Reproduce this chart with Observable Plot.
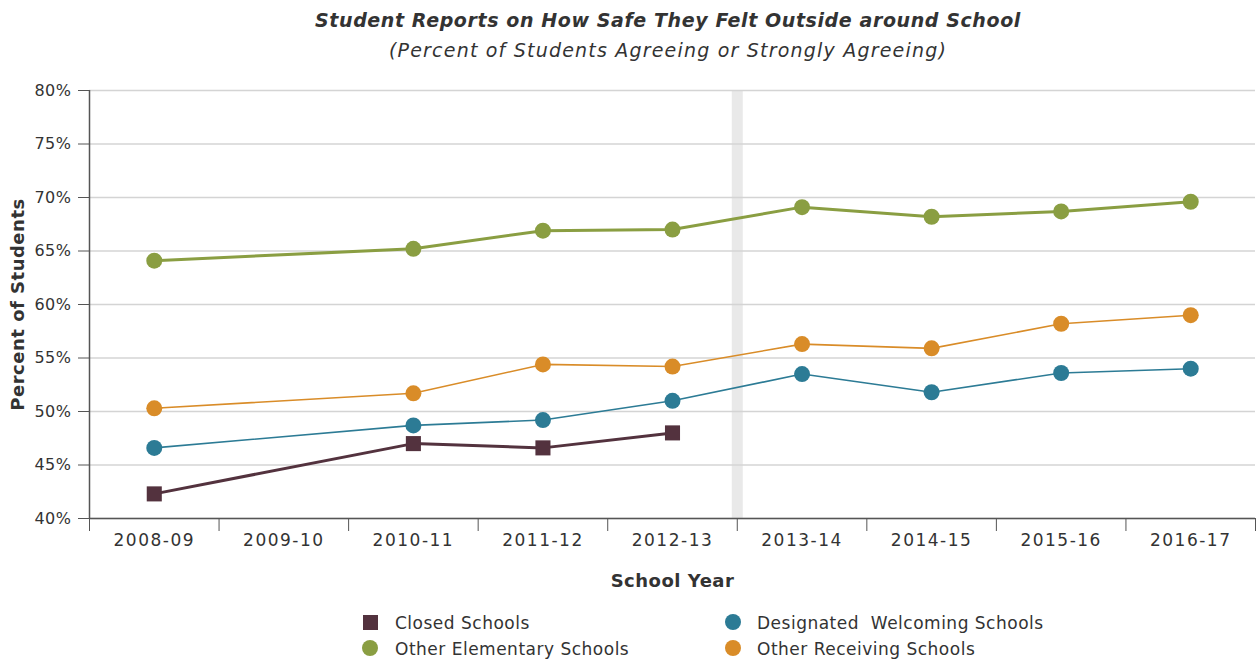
<!DOCTYPE html>
<html>
<head>
<meta charset="utf-8">
<script src="https://cdn.jsdelivr.net/npm/d3@7"></script>
<script src="https://cdn.jsdelivr.net/npm/@observablehq/plot@0.6"></script>
<style>
  body { margin: 0; background: #fff; font-family: "DejaVu Sans", sans-serif; color: #333; }
  #wrap { position: relative; width: 1260px; height: 660px; }
  #title { position: absolute; left: 0; top: 5px; width: 1336px; text-align: center; line-height: 30px; font-size: 19px; font-style: italic; color: #333; }
  #title .t { font-weight: 700; letter-spacing: 0.6px; }
  #title .s { letter-spacing: 1.2px; }
  #chart { position: absolute; left: 0; top: 70px; }
  #chart svg text { letter-spacing: 0.5px; }
  #chart svg g[aria-label="x-axis tick label"] text { letter-spacing: 1.5px; }
  .leg { position: absolute; font-size: 17px; color: #333; line-height: 20px; white-space: pre; letter-spacing: 0.5px; }
  .mk { position: absolute; }
</style>
</head>
<body>
<div id="wrap">
  <div id="title"><div class="t">Student Reports on How Safe They Felt Outside around School</div><div class="s">(Percent of Students Agreeing or Strongly Agreeing)</div></div>
  <div id="chart"></div>
  <div id="legend"></div>
</div>
<script>
const years = ["2008-09","2009-10","2010-11","2011-12","2012-13","2013-14","2014-15","2015-16","2016-17"];
const seriesNames = ["Closed Schools","Designated  Welcoming Schools","Other Elementary Schools","Other Receiving Schools"];
const closed     = [42.3, null, 47.0, 46.6, 48.0, null, null, null, null];
const welcoming  = [46.6, null, 48.7, 49.2, 51.0, 53.5, 51.8, 53.6, 54.0];
const elementary = [64.1, null, 65.2, 66.9, 67.0, 69.1, 68.2, 68.7, 69.6];
const receiving  = [50.3, null, 51.7, 54.4, 54.2, 56.3, 55.9, 58.2, 59.0];
const yTicks = [40, 45, 50, 55, 60, 65, 70, 75, 80];
const breakAfter = "2012-13";

const colors = {
  "Closed Schools": "#53323e",
  "Designated  Welcoming Schools": "#2c7b95",
  "Other Elementary Schools": "#8a9e42",
  "Other Receiving Schools": "#d98c28"
};
const widths = {
  "Closed Schools": 3,
  "Designated  Welcoming Schools": 1.6,
  "Other Elementary Schools": 3,
  "Other Receiving Schools": 1.6
};
const valuesBySeries = [closed, welcoming, elementary, receiving];

const rows = [];
seriesNames.forEach((s, k) => {
  valuesBySeries[k].forEach((v, i) => {
    if (v != null) rows.push({series: s, year: years[i], xi: i + 0.5, value: v});
  });
});

const boundaries = d3.range(years.length + 1);
const centers = years.map((y, i) => i + 0.5);
const breakX = years.indexOf(breakAfter) + 1;

const lineMarks = [];
const dotMarks = [];
["Other Elementary Schools","Other Receiving Schools","Designated  Welcoming Schools","Closed Schools"].forEach(s => {
  const data = rows.filter(r => r.series === s);
  lineMarks.push(Plot.line(data, {x: "xi", y: "value", stroke: colors[s], strokeWidth: widths[s]}));
  if (s === "Closed Schools") {
    dotMarks.push(Plot.dot(data, {x: "xi", y: "value", fill: colors[s], symbol: "square", r: 8.5}));
  } else {
    dotMarks.push(Plot.dot(data, {x: "xi", y: "value", fill: colors[s], r: 8}));
  }
});

const chart = Plot.plot({
  width: 1260,
  height: 530,
  marginTop: 20,
  marginLeft: 89,
  marginRight: 5,
  marginBottom: 82,
  style: {fontFamily: "DejaVu Sans, sans-serif", fontSize: "16px", color: "#333", background: "#fff"},
  x: {type: "linear", domain: [0, years.length], label: null},
  y: {domain: [40, 80], label: null},
  marks: [
    Plot.ruleX([breakX], {stroke: "#e9e9e9", strokeWidth: 11}),
    Plot.gridY({ticks: yTicks, stroke: "#d4d4d4", strokeOpacity: 1, strokeWidth: 1.5}),
    Plot.axisY({ticks: yTicks, tickFormat: d => d + "%", tickSize: 11, tickPadding: 7, stroke: "#555", fontSize: 16, label: null}),
    Plot.axisX({ticks: boundaries, tickSize: 13, tickFormat: () => "", stroke: "#555", label: null}),
    Plot.axisX({ticks: centers, tickSize: 0, tickPadding: 15, tickFormat: d => years[Math.floor(d)], fontSize: 17, label: null}),
    Plot.ruleX([0], {stroke: "#555", strokeWidth: 1.5}),
    Plot.ruleY([40], {stroke: "#555", strokeWidth: 1.5}),
    ...lineMarks,
    ...dotMarks,
    Plot.text(["School Year"], {frameAnchor: "bottom", dy: 68, text: d => d, fontSize: 18, fontWeight: "bold", fill: "#333"}),
    Plot.text(["Percent of Students"], {frameAnchor: "left", textAnchor: "middle", dx: -71, rotate: -90, text: d => d, fontSize: 18, fontWeight: "bold", fill: "#333"})
  ]
});
document.getElementById("chart").appendChild(chart);

const legend = document.getElementById("legend");
const legendLayout = [
  {name: "Closed Schools", col: 0, row: 0},
  {name: "Designated  Welcoming Schools", col: 1, row: 0},
  {name: "Other Elementary Schools", col: 0, row: 1},
  {name: "Other Receiving Schools", col: 1, row: 1}
];
const colX = [370, 733], textX = [395, 757], rowY = [622, 648];
legendLayout.forEach(({name, col, row}) => {
  const mk = document.createElement("div");
  mk.className = "mk";
  const sq = name === "Closed Schools";
  const sz = sq ? 15 : 16;
  mk.style.width = sz + "px";
  mk.style.height = sz + "px";
  mk.style.left = (colX[col] - sz / 2) + "px";
  mk.style.top = (rowY[row] - sz / 2) + "px";
  mk.style.background = colors[name];
  if (!sq) mk.style.borderRadius = "50%";
  legend.appendChild(mk);
  const t = document.createElement("div");
  t.className = "leg";
  t.textContent = name;
  t.style.left = textX[col] + "px";
  t.style.top = (rowY[row] - 9) + "px";
  legend.appendChild(t);
});
</script>
</body>
</html>
